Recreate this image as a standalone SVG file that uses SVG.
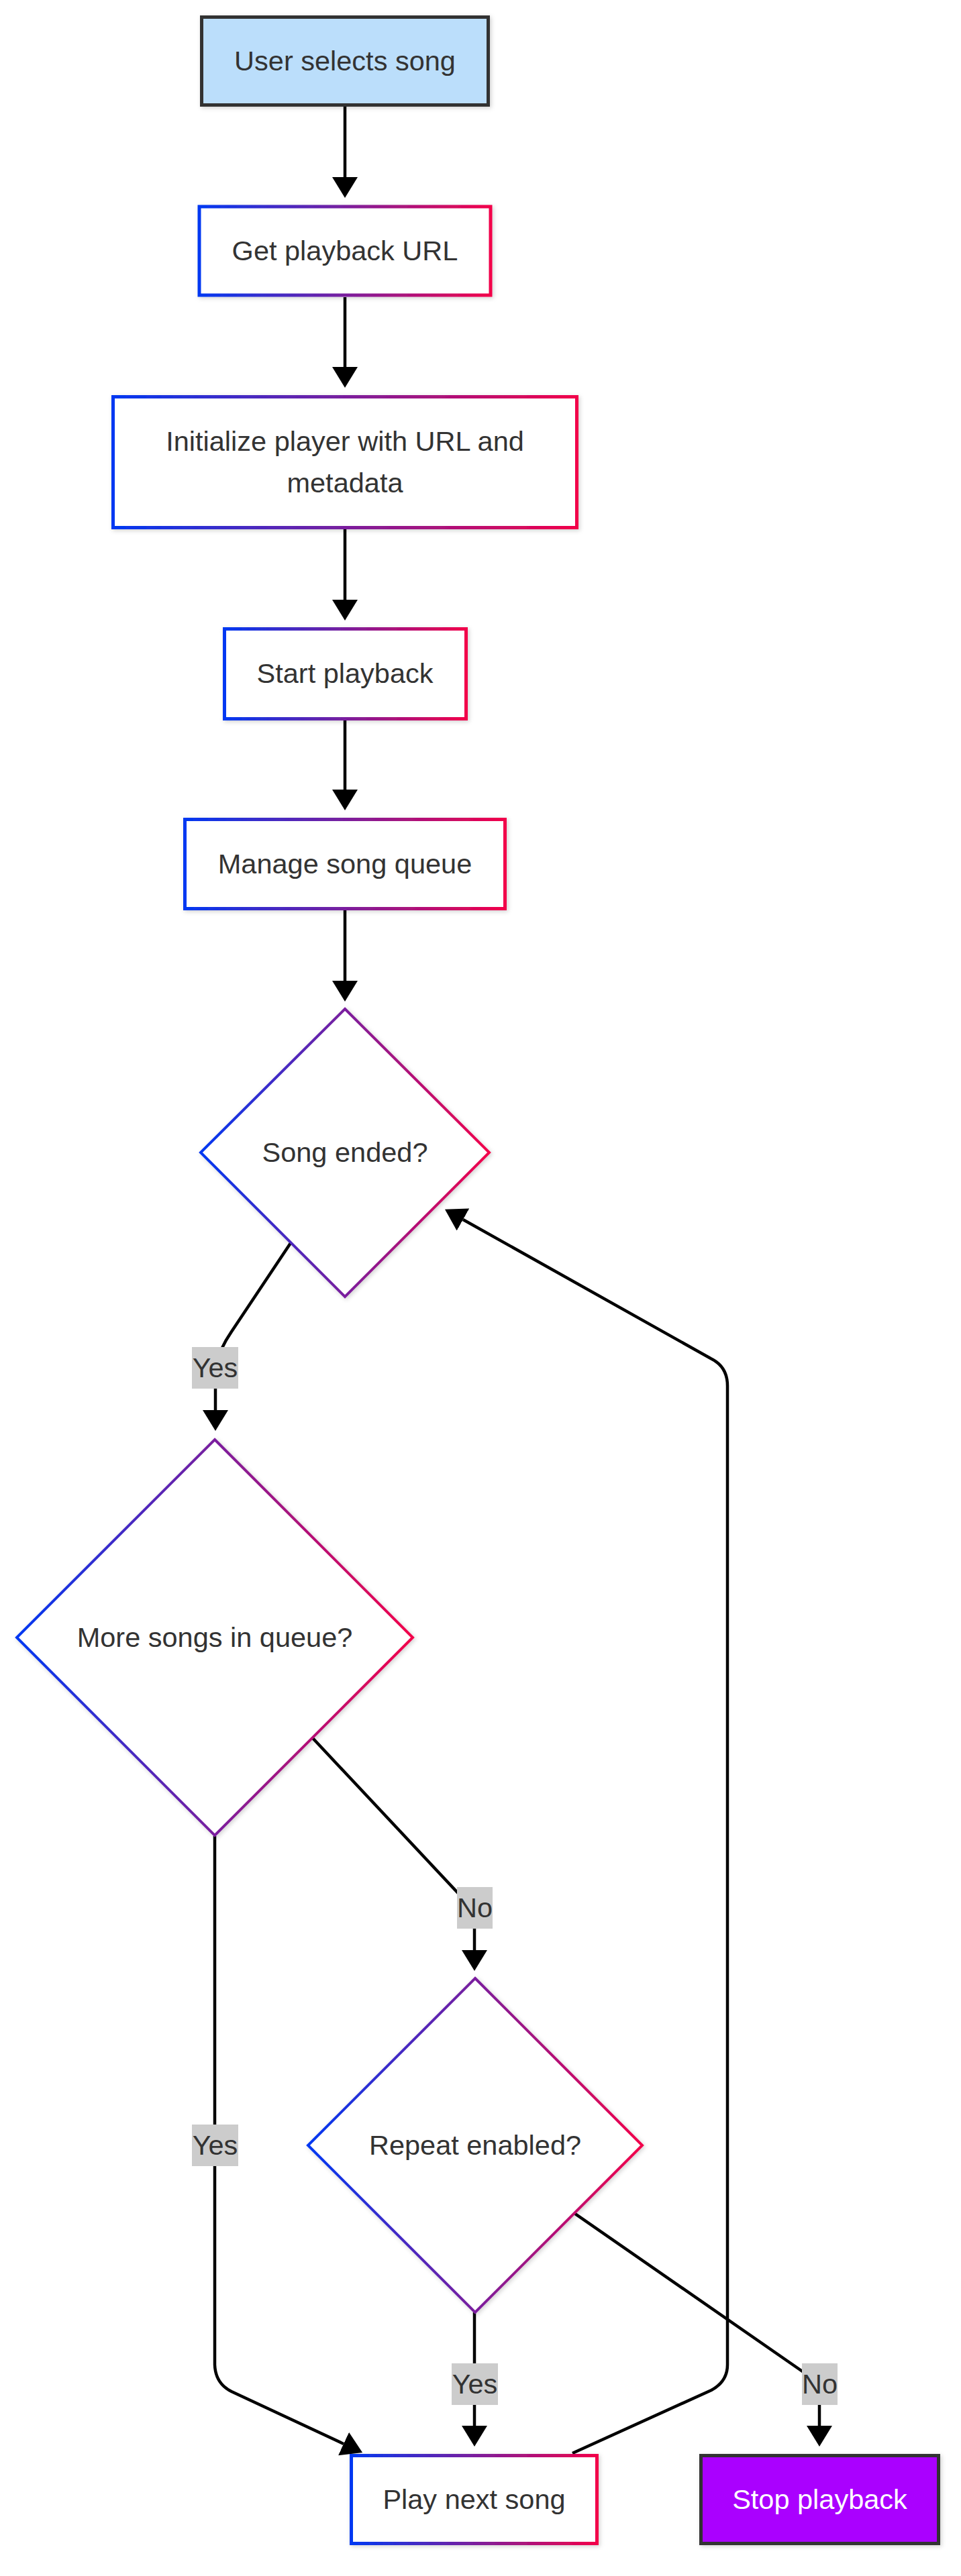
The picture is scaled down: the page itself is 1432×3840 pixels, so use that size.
<svg xmlns="http://www.w3.org/2000/svg" width="1432" height="3840" viewBox="0 0 1432 3840">
<defs>
<linearGradient id="grad" x1="0" y1="0" x2="1" y2="0">
<stop offset="0" stop-color="#0038f2"/>
<stop offset="0.5" stop-color="#7a1f9e"/>
<stop offset="1" stop-color="#f2004a"/>
</linearGradient>
<filter id="shadow" x="-10%" y="-10%" width="120%" height="120%">
<feDropShadow dx="2" dy="2" stdDeviation="3" flood-color="#000" flood-opacity="0.18"/>
</filter>
<marker id="arrow" viewBox="0 0 31 38" refX="0" refY="19" markerWidth="31" markerHeight="38" markerUnits="userSpaceOnUse" orient="auto">
<path d="M0,0 L31,19 L0,38 z" fill="#000"/>
</marker>
<style>
.txt{font-family:"Liberation Sans",Arial,Helvetica,sans-serif;font-size:41.5px;fill:#333;text-anchor:middle;}
.wtxt{font-family:"Liberation Sans",Arial,Helvetica,sans-serif;font-size:41.5px;fill:#fff;text-anchor:middle;}
.gnode{fill:#fff;stroke:url(#grad);stroke-width:5;filter:url(#shadow);}
.gdia{fill:#fff;stroke:url(#grad);stroke-width:4;filter:url(#shadow);}
.edge{fill:none;stroke:#000;stroke-width:4.5;marker-end:url(#arrow);}
.lbl{fill:#cccccc;}
</style>
</defs>
<rect width="1432" height="3840" fill="#fff"/>

<g id="connectors">
<path class="edge" d="M514,159 L514,264"/>
<path class="edge" d="M514,443 L514,547"/>
<path class="edge" d="M514,789 L514,894"/>
<path class="edge" d="M514,1074 L514,1177"/>
<path class="edge" d="M514,1357 L514,1462"/>
<path class="edge" d="M433,1853 L345,1985 Q321,2020 321,2050 L321,2102"/>
<path class="edge" d="M320,2737 L320,3525 Q321,3553 345,3565 L512,3643"/>
<path class="edge" d="M466,2591 L690,2830 Q707,2850 707,2870 L707,2907"/>
<path class="edge" d="M707,3447 L707,3616"/>
<path class="edge" d="M857,3300 L1200,3538 Q1221,3553 1221,3575 L1221,3616"/>
<path class="edge" d="M853,3657 L1060,3563 Q1084,3550 1084,3525 L1084,2066 Q1084,2037 1059,2025 L690,1818"/>
<g id="edge-labels">
<rect class="lbl" x="286" y="2008" width="69" height="62"/>
<text class="txt" x="320.5" y="2053">Yes</text>
<rect class="lbl" x="681" y="2813" width="53" height="62"/>
<text class="txt" x="707.5" y="2858">No</text>
<rect class="lbl" x="286" y="3167" width="69" height="62"/>
<text class="txt" x="320.5" y="3212">Yes</text>
<rect class="lbl" x="673" y="3523" width="69" height="62"/>
<text class="txt" x="707.5" y="3568">Yes</text>
<rect class="lbl" x="1195" y="3523" width="53" height="62"/>
<text class="txt" x="1221.5" y="3568">No</text>
</g>
</g>

<g id="node-select">
<rect x="300.5" y="25.5" width="427" height="131" fill="#bbdefb" stroke="#333" stroke-width="5" filter="url(#shadow)"/>
<text class="txt" x="514" y="105">User selects song</text>
</g>
<g id="node-url">
<rect class="gnode" x="297" y="308" width="434" height="132"/>
<text class="txt" x="514" y="388">Get playback URL</text>
</g>
<g id="node-init">
<rect class="gnode" x="168.5" y="591.5" width="691" height="195"/>
<text class="txt" x="514" y="672">Initialize player with URL and</text>
<text class="txt" x="514" y="734">metadata</text>
</g>
<g id="node-start">
<rect class="gnode" x="334.5" y="937.5" width="360" height="134"/>
<text class="txt" x="514" y="1018">Start playback</text>
</g>
<g id="node-queue">
<rect class="gnode" x="275.5" y="1221.5" width="477" height="133"/>
<text class="txt" x="514" y="1302">Manage song queue</text>
</g>
<g id="node-ended">
<polygon class="gdia" points="514,1504 729,1718 514,1933 299,1718"/>
<text class="txt" x="514" y="1732">Song ended?</text>
</g>
<g id="node-more">
<polygon class="gdia" points="320,2146 615,2441 320,2736 25,2441"/>
<text class="txt" x="320" y="2455">More songs in queue?</text>
</g>
<g id="node-repeat">
<polygon class="gdia" points="708,2949 957,3198 708,3447 459,3198"/>
<text class="txt" x="708" y="3212">Repeat enabled?</text>
</g>
<g id="node-next">
<rect class="gnode" x="523.5" y="3660.5" width="366" height="131"/>
<text class="txt" x="706.5" y="3740">Play next song</text>
</g>
<g id="node-stop">
<rect x="1044.5" y="3660.5" width="354" height="131" fill="#aa00ff" stroke="#333" stroke-width="5" filter="url(#shadow)"/>
<text class="wtxt" x="1221.5" y="3740">Stop playback</text>
</g>
</svg>
